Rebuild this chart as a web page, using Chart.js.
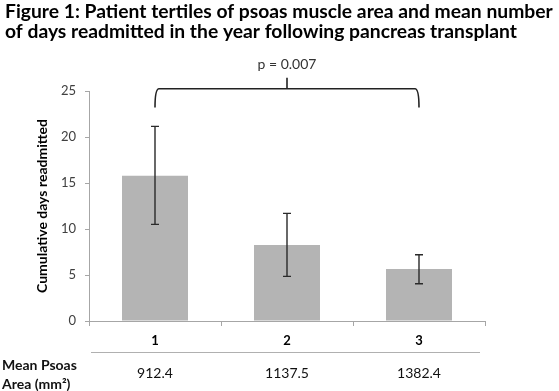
<!DOCTYPE html>
<html>
<head>
<meta charset="utf-8">
<script src="https://cdn.jsdelivr.net/npm/chart.js@4/dist/chart.umd.min.js"></script>
<style>
  body { margin: 0; background: #fff; }
  #wrap { width: 559px; height: 391px; }
</style>
</head>
<body>
<div id="wrap"><canvas id="myChart" width="559" height="391"></canvas></div>
<script>
const categories = ['1', '2', '3'];
const meanDays = [15.8, 8.25, 5.65];
const errUp = [5.35, 3.45, 1.55];
const errDown = [5.3, 3.4, 1.6];
const psoasArea = ['912.4', '1137.5', '1382.4'];
const yTicks = [0, 5, 10, 15, 20, 25];
const pValue = 'p = 0.007';
const titleLines = ['Figure 1: Patient tertiles of psoas muscle area and mean number',
                    'of days readmitted in the year following pancreas transplant'];

const FONT = 'Lato, "Open Sans", sans-serif';

// title drawn by hand so it can use the full canvas width
const titlePlugin = {
    id: 'titlePlugin',
    afterDraw(chart) {
        const c = chart.ctx;
        c.save();
        let size = 20;
        c.font = 'bold ' + size + 'px ' + FONT;
        const w = c.measureText(titleLines[0]).width;
        if (w > 548) {
            size = size * 548 / w;
            c.font = 'bold ' + size + 'px ' + FONT;
        }
        c.fillStyle = '#000';
        c.textAlign = 'left';
        c.textBaseline = 'alphabetic';
        c.fillText(titleLines[0], 5, 17.5);
        c.fillText(titleLines[1], 5, 37.5);
        c.restore();
    }
};

// error bars, significance bracket and the psoas area row
const extras = {
    id: 'extras',
    afterDatasetsDraw(chart) {
        const c = chart.ctx;
        const x = chart.scales.x;
        const y = chart.scales.y;
        c.save();

        // error bars
        c.strokeStyle = '#2a2a2a';
        c.lineWidth = 1.4;
        meanDays.forEach(function (v, i) {
            const px = x.getPixelForValue(i);
            const top = y.getPixelForValue(v + errUp[i]);
            const bot = y.getPixelForValue(v - errDown[i]);
            c.beginPath();
            c.moveTo(px, top); c.lineTo(px, bot);
            c.moveTo(px - 4, top); c.lineTo(px + 4, top);
            c.moveTo(px - 4, bot); c.lineTo(px + 4, bot);
            c.stroke();
        });

        // bracket
        const x0 = x.getPixelForValue(0);
        const x2 = x.getPixelForValue(2);
        const by = y.getPixelForValue(25.25);
        const be = y.getPixelForValue(23.2);
        const mid = (x0 + x2) / 2;
        c.lineWidth = 1.6;
        c.strokeStyle = '#222';
        c.beginPath();
        c.moveTo(x0, be);
        c.quadraticCurveTo(x0, by, x0 + 4, by);
        c.lineTo(x2 - 4, by);
        c.quadraticCurveTo(x2, by, x2, be);
        c.moveTo(mid, by);
        c.lineTo(mid, by - 11);
        c.stroke();

        c.fillStyle = '#333';
        c.font = '14px ' + FONT;
        c.textAlign = 'center';
        c.textBaseline = 'middle';
        c.fillText(pValue, mid, 64);

        // table row under the axis
        c.strokeStyle = '#b0b0b0';
        c.lineWidth = 1;
        c.beginPath();
        c.moveTo(x.left + 2, 352.5);
        c.lineTo(x.right - 5, 352.5);
        c.stroke();

        c.fillStyle = '#111';
        c.font = '14px ' + FONT;
        psoasArea.forEach(function (a, i) {
            c.fillText(a, x.getPixelForValue(i), 373);
        });

        c.textAlign = 'left';
        c.font = 'bold 14px ' + FONT;
        c.fillText('Mean Psoas', 2, 365);
        c.fillText('Area (mm\u00B2)', 2, 384);
        c.restore();
    }
};

const ctx = document.getElementById('myChart');

var myChart = new Chart(ctx, {
    type: 'bar',
    data: {
        labels: categories,
        datasets: [{
            label: 'Cumulative days readmitted',
            data: meanDays,
            backgroundColor: '#b4b4b4',
            barPercentage: 0.5,
            categoryPercentage: 1.0
        }]
    },
    options: {
        responsive: false,
        animation: false,
        layout: { padding: { left: 5, right: 74, top: 91, bottom: 0 } },
        plugins: {
            legend: { display: false },
            tooltip: { enabled: false },
            title: { display: false }
        },
        scales: {
            x: {
                afterFit(axis) { axis.height = 70; },
                border: { color: '#a6a6a6' },
                grid: { drawOnChartArea: false, tickLength: 5, color: '#a6a6a6' },
                ticks: { color: '#000', padding: 7, font: { family: FONT, size: 13, weight: 'bold' } }
            },
            y: {
                min: 0,
                max: 25,
                afterFit(axis) { axis.width = 84; },
                afterBuildTicks(axis) { axis.ticks = yTicks.map(function (v) { return { value: v }; }); },
                border: { color: '#a6a6a6' },
                grid: { drawOnChartArea: false, tickLength: 4, color: '#a6a6a6' },
                ticks: { color: '#404040', padding: 9, font: { family: FONT, size: 13 } },
                title: {
                    display: true,
                    text: 'Cumulative days readmitted',
                    color: '#000',
                    padding: { top: 29, bottom: 0 },
                    font: { family: FONT, size: 14, weight: 'bold' }
                }
            }
        }
    },
    plugins: [extras, titlePlugin]
});
</script>
</body>
</html>
